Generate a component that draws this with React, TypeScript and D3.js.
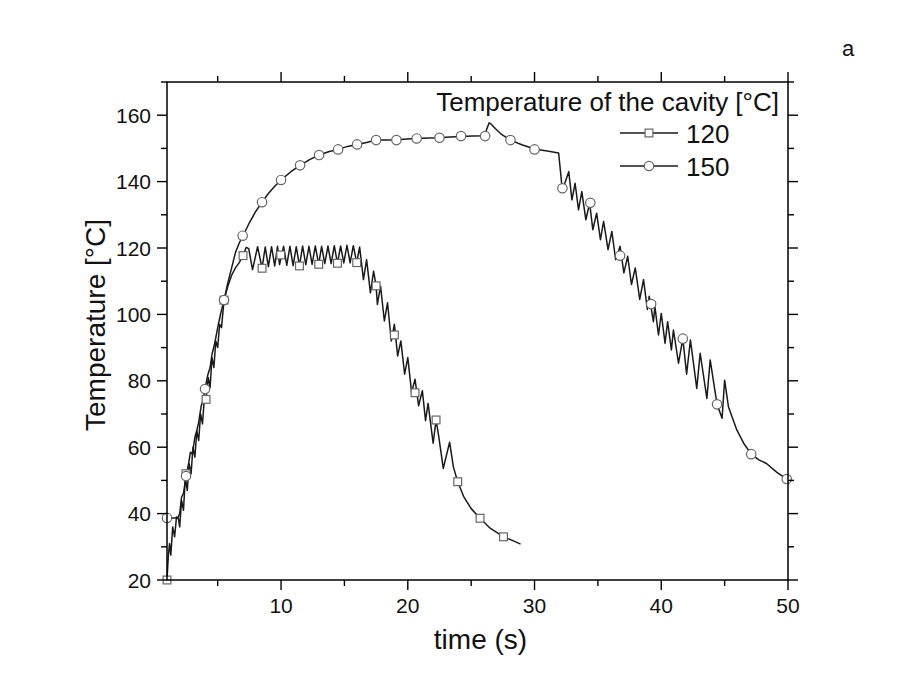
import React from "react";
import * as d3 from "d3";

type P = [number, number];

const xMajorTicks = [10, 20, 30, 40, 50];
const xMinorTicks = [5, 15, 25, 35, 45];
const yMajorTicks = [20, 40, 60, 80, 100, 120, 140, 160];
const yMinorTicks = [30, 50, 70, 90, 110, 130, 150, 170];

const legendTitle = "Temperature of the cavity [°C]";
const seriesNames = ["120", "150"];

const line120: P[] = [
  [1.0, 20], [1.1, 27], [1.2, 31], [1.3, 27.5], [1.45, 36], [1.6, 33], [1.75, 39], [1.9, 38.5], [2.0, 36],
  [2.15, 44], [2.3, 41], [2.45, 51], [2.6, 47], [2.75, 55], [2.9, 52], [3.05, 60], [3.2, 57], [3.35, 65],
  [3.5, 62], [3.65, 70], [3.8, 67], [3.95, 75], [4.08, 74.4], [4.25, 81], [4.4, 78], [4.55, 87], [4.7, 84],
  [4.85, 92], [5.0, 90], [5.15, 97], [5.3, 96], [5.5, 104.3], [5.8, 108.5], [6.1, 111.8], [6.4, 114],
  [6.7, 115.6], [7.0, 117.7], [7.25, 120.2], [7.45, 119.8], [7.75, 113.5], [8.15, 120.4], [8.5, 113.9],
  [8.75, 120.3], [9.0, 114.4], [9.25, 120.4], [9.5, 114.6], [9.72, 120.5], [9.88, 115], [10.2, 120.5],
  [10.45, 114.8], [10.7, 120.5], [10.95, 114.7], [11.2, 120.4], [11.45, 114.6], [11.7, 120.6], [11.95, 115],
  [12.2, 120.5], [12.45, 115.1], [12.7, 120.6], [12.97, 115.1], [13.2, 120.5], [13.45, 115.3], [13.7, 120.6],
  [13.95, 115.3], [14.2, 120.7], [14.45, 115.4], [14.7, 120.6], [14.95, 115.5], [15.2, 120.8], [15.45, 115.5],
  [15.7, 120.7], [15.97, 115.6], [16.2, 120.3], [16.5, 110.5], [16.75, 116.5], [17.05, 106.5], [17.3, 113],
  [17.5, 108.6], [17.6, 103], [17.85, 108.5], [18.15, 98], [18.4, 103.5], [18.7, 92], [18.94, 97],
  [19.2, 87.5], [19.45, 92], [19.75, 82], [20.0, 87], [20.3, 76.5], [20.57, 80.5], [20.85, 72.5],
  [21.15, 77], [21.4, 68], [21.6, 73.2], [22.0, 61.2], [22.23, 68.2], [22.45, 63], [22.8, 53.6],
  [23.3, 61.5], [23.6, 54], [23.94, 49.6], [24.4, 45.2], [25.0, 41.5], [25.7, 38.6], [26.5, 35.6],
  [27.55, 33.0], [28.2, 32.0], [28.9, 30.8],
];

const line150: P[] = [
  [1.0, 38.7], [1.85, 38.7], [2.0, 40], [2.15, 45], [2.3, 46], [2.5, 51.3], [2.7, 55], [2.85, 58.5],
  [3.0, 58], [3.2, 63], [3.35, 65], [3.5, 67.5], [3.7, 72.5], [3.85, 74], [4.0, 77.5], [4.2, 81.5],
  [4.4, 84], [4.55, 88], [4.75, 91], [5.0, 96], [5.25, 100.5], [5.5, 104.3], [5.8, 109.5], [6.1, 114],
  [6.4, 118.6], [6.7, 121.5], [7.0, 123.7], [7.5, 127.6], [8.0, 131], [8.5, 133.8], [9.0, 136.4],
  [9.5, 138.6], [10.0, 140.5], [10.75, 142.9], [11.5, 144.9], [12.25, 146.6], [13.0, 148], [13.75, 149],
  [14.5, 149.7], [15.25, 150.6], [16.0, 151.2], [16.75, 151.8], [17.5, 152.5], [18.3, 152.5],
  [19.1, 152.6], [19.9, 152.8], [20.7, 153], [21.6, 153.1], [22.5, 153.2], [23.35, 153.4], [24.2, 153.6],
  [25.1, 153.7], [26.05, 153.8], [26.2, 155.5], [26.42, 157.7], [26.55, 157.4], [26.9, 156], [27.4, 154.2],
  [28.1, 152.5], [29.0, 151.1], [30.0, 149.8], [31.0, 149.2], [31.9, 148.6], [32.05, 143], [32.15, 139],
  [32.25, 138], [32.7, 143], [32.95, 134.5], [33.2, 139.5], [33.47, 131.5], [33.73, 137], [34.05, 128.5],
  [34.35, 133.5], [34.6, 125.5], [34.9, 130.5], [35.2, 122.5], [35.45, 128], [35.8, 119.5], [36.1, 125],
  [36.4, 116.5], [36.75, 120.5], [37.05, 112.5], [37.35, 117.5], [37.65, 109], [37.95, 114], [38.3, 104.5],
  [38.6, 110.5], [38.9, 101.5], [39.05, 105.5], [39.38, 97.8], [39.5, 102.3], [39.78, 93.8], [40.0, 100.3],
  [40.3, 91.3], [40.5, 97.8], [40.8, 89.3], [40.96, 95.3], [41.36, 85.3], [41.7, 92.7], [42.0, 82],
  [42.3, 92.3], [42.8, 77.7], [43.07, 88.3], [43.6, 74.7], [43.86, 86.3], [44.4, 72.9], [44.8, 68.7],
  [45.0, 80.2], [45.3, 72.2], [45.96, 65.2], [46.5, 61.2], [47.1, 57.9], [47.7, 56.2], [48.3, 55.1],
  [49.1, 52.5], [49.9, 50.4], [50.0, 50.1],
];

const markers120: P[] = [
  [1.0, 20], [2.5, 52], [4.08, 74.4], [5.5, 104.3], [7.0, 117.7], [8.5, 113.9], [9.97, 117.9],
  [11.45, 114.6], [12.97, 115.1], [14.45, 115.4], [15.97, 115.6], [17.5, 108.6], [18.94, 93.8],
  [20.57, 76.4], [22.23, 68.2], [23.94, 49.6], [25.7, 38.6], [27.55, 33.0],
];

const markers150: P[] = [
  [1.0, 38.7], [2.5, 51.3], [4.0, 77.5], [5.5, 104.3], [6.97, 123.7], [8.5, 133.8], [10.0, 140.5],
  [11.5, 144.9], [13.0, 148.0], [14.5, 149.7], [16.0, 151.2], [17.5, 152.5], [19.1, 152.5], [20.7, 153.0],
  [22.5, 153.2], [24.2, 153.7], [26.1, 153.7], [28.1, 152.5], [30.0, 149.7], [32.2, 138.0], [34.4, 133.6],
  [36.75, 117.7], [39.2, 103.1], [41.7, 92.7], [44.4, 72.9], [47.1, 57.9], [49.9, 50.4],
];

const W = 901;
const H = 690;
const L = 167;
const R = 788;
const T = 82;
const B = 580;
const FONT = "'Liberation Sans', Arial, sans-serif";
const LINE = "#1a1a1a";
const MARK = "#666";

export default function App() {
  const x = d3.scaleLinear().domain([1, 50]).range([L, R]);
  const y = d3.scaleLinear().domain([20, 170]).range([B, T]);
  const line = d3.line<P>().x((d) => x(d[0])).y((d) => y(d[1]));
  const MAJ = 10;
  const MIN = 6;

  const square = (cx: number, cy: number, key: string) => (
    <rect key={key} x={cx - 3.9} y={cy - 3.9} width={7.8} height={7.8} fill="#fff" stroke={MARK} strokeWidth={1.2} />
  );
  const circle = (cx: number, cy: number, key: string) => (
    <circle key={key} cx={cx} cy={cy} r={4.7} fill="#fff" stroke={MARK} strokeWidth={1.2} />
  );

  return (
    <svg
      width={W}
      height={H}
      style={{ display: "block", background: "#fff", position: "absolute", left: 0, top: 0 }}
      fontFamily={FONT}
    >
      <rect x={0} y={0} width={W} height={H} fill="#fff" />
      {/* lines */}
      <path d={line(line120) || ""} fill="none" stroke={LINE} strokeWidth={1.5} strokeLinejoin="round" />
      <path d={line(line150) || ""} fill="none" stroke={LINE} strokeWidth={1.5} strokeLinejoin="round" />
      {markers120.map((d, i) => square(x(d[0]), y(d[1]), "s" + i))}
      {markers150.map((d, i) => circle(x(d[0]), y(d[1]), "c" + i))}

      {/* frame */}
      <rect x={L} y={T} width={R - L} height={B - T} fill="none" stroke="#000" strokeWidth={1.5} />

      {/* x ticks */}
      {xMajorTicks.map((t) => (
        <g key={"xm" + t}>
          <line x1={x(t)} x2={x(t)} y1={B} y2={B + MAJ} stroke="#000" strokeWidth={1.4} />
          <line x1={x(t)} x2={x(t)} y1={T} y2={T - MAJ} stroke="#000" strokeWidth={1.4} />
          <text x={x(t)} y={B + 33} textAnchor="middle" fontSize={21} fill="#111">{t}</text>
        </g>
      ))}
      {xMinorTicks.map((t) => (
        <g key={"xn" + t}>
          <line x1={x(t)} x2={x(t)} y1={B} y2={B + MIN} stroke="#000" strokeWidth={1.4} />
          <line x1={x(t)} x2={x(t)} y1={T} y2={T - MIN} stroke="#000" strokeWidth={1.4} />
        </g>
      ))}
      {/* y ticks */}
      {yMajorTicks.map((t) => (
        <g key={"ym" + t}>
          <line x1={L} x2={L - MAJ} y1={y(t)} y2={y(t)} stroke="#000" strokeWidth={1.4} />
          <line x1={R} x2={R + MAJ} y1={y(t)} y2={y(t)} stroke="#000" strokeWidth={1.4} />
          <text x={L - 16} y={y(t)} dy="0.36em" textAnchor="end" fontSize={21} fill="#111">{t}</text>
        </g>
      ))}
      {yMinorTicks.map((t) => (
        <g key={"yn" + t}>
          <line x1={L} x2={L - MIN} y1={y(t)} y2={y(t)} stroke="#000" strokeWidth={1.4} />
          <line x1={R} x2={R + MIN} y1={y(t)} y2={y(t)} stroke="#000" strokeWidth={1.4} />
        </g>
      ))}

      {/* axis titles */}
      <text x={(L + R) / 2 + 3} y={649} textAnchor="middle" fontSize={28} fill="#111">time (s)</text>
      <text transform={`translate(105,${(T + B) / 2 - 6}) rotate(-90)`} textAnchor="middle" fontSize={28} fill="#111">
        Temperature [°C]
      </text>
      <text x={848} y={56} textAnchor="middle" fontSize={22} fill="#111">a</text>

      {/* legend */}
      <text x={779} y={111} textAnchor="end" fontSize={26} fill="#111">{legendTitle}</text>
      <line x1={620} x2={678} y1={133} y2={133} stroke={LINE} strokeWidth={1.5} />
      {square(649, 133, "ls")}
      <text x={686} y={143} fontSize={26} fill="#111">{seriesNames[0]}</text>
      <line x1={620} x2={678} y1={166} y2={166} stroke={LINE} strokeWidth={1.5} />
      {circle(649, 166, "lc")}
      <text x={686} y={176} fontSize={26} fill="#111">{seriesNames[1]}</text>
    </svg>
  );
}
